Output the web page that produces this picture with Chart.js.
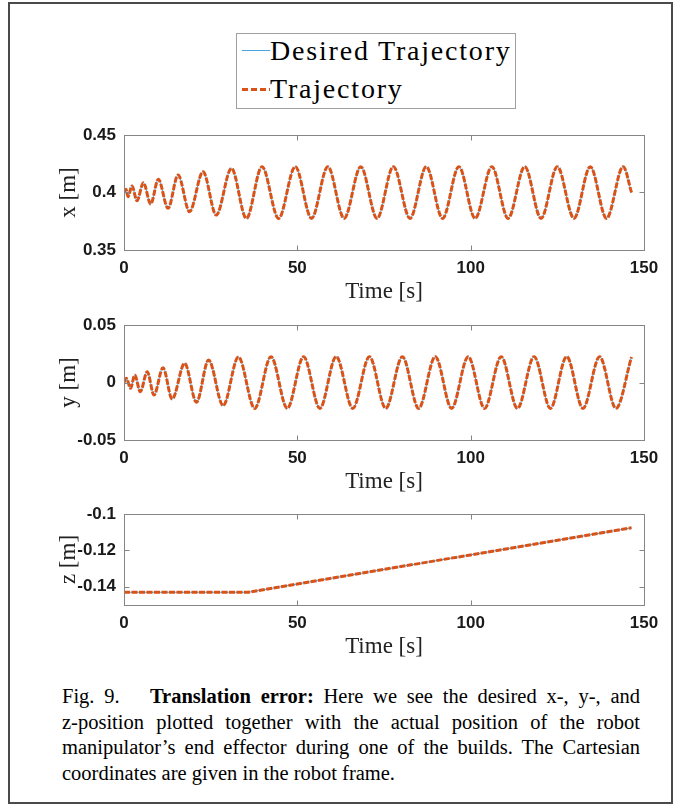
<!DOCTYPE html>
<html>
<head>
<meta charset="utf-8">
<script src="https://cdn.jsdelivr.net/npm/chart.js@4.4.1/dist/chart.umd.min.js"></script>
<style>
  html, body { margin: 0; padding: 0; background: #fff; }
  #page { position: relative; width: 681px; height: 808px; overflow: hidden; background: #fff; }
  #frame { position: absolute; left: 8px; top: 2px; width: 665px; height: 802px; border: 2px solid #4a4a4a; box-sizing: border-box; }
  canvas { position: absolute; left: 0; }
  #legend { position: absolute; left: 236px; top: 33px; width: 280px; height: 76px; border: 1px solid #a0a0a0;
            box-sizing: border-box; font-family: 'Liberation Serif', serif; font-size: 28px; letter-spacing: 1.8px; color: #000; }
  .row { position: absolute; left: 0; right: 0; height: 34px; line-height: 34px; white-space: nowrap; }
  .lab { position: absolute; left: 33px; top: 0; }
  .sample { position: absolute; left: 5px; width: 28px; }
  #caption { position: absolute; left: 62px; top: 684px; width: 578px; font-family: 'Liberation Serif', serif;
             font-size: 20.5px; line-height: 25.5px; color: #000; }
  .cl { text-align: justify; text-align-last: justify; }
  .last { text-align: left; }
</style>
</head>
<body>
<div id="page">
  <div id="frame"></div>
  <div id="legend">
    <div class="row" style="top:0px">
      <div class="sample" style="top:16px;height:1px;background:#4aa3dc"></div>
      <span class="lab">Desired Trajectory</span>
    </div>
    <div class="row" style="top:38px">
      <div class="sample" style="top:16px;height:3px;background:repeating-linear-gradient(to right,#D95319 0 6px,transparent 6px 9px)"></div>
      <span class="lab">Trajectory</span>
    </div>
  </div>
  <canvas id="cx"></canvas>
  <canvas id="cy"></canvas>
  <canvas id="cz"></canvas>
  <div id="caption">
    <div class="cl">Fig. 9.&emsp;&nbsp;<b>Translation error:</b> Here we see the desired x-, y-, and</div>
    <div class="cl">z-position plotted together with the actual position of the robot</div>
    <div class="cl">manipulator’s end effector during one of the builds. The Cartesian</div>
    <div class="last">coordinates are given in the robot frame.</div>
  </div>
</div>
<script>
// time axis ticks shared by all three plots
const timeTicks = [0, 50, 100, 150];

// x position: extrema (s, m)
const xTime = [0, 0.6, 1.15, 2.3, 3.75, 5.6, 7.7, 9.9, 12.7, 15.6, 18.9, 22.8, 26.6, 31.0, 35.3,
  39.8, 44.6, 49.4, 54.1, 58.8, 63.5, 68.3, 73.0, 77.7, 82.5, 87.2, 91.9, 96.6, 101.3, 106.1,
  110.8, 115.6, 120.3, 125.0, 129.8, 134.5, 139.2, 144.0, 146.4];
const xPos = [0.400, 0.4028, 0.3964, 0.4057, 0.3929, 0.4085, 0.3900, 0.4115, 0.3862, 0.4152, 0.3833, 0.4181, 0.3804, 0.4210, 0.3775,
  0.4225, 0.3775, 0.4225, 0.3775, 0.4225, 0.3775, 0.4225, 0.3775, 0.4225, 0.3775, 0.4225, 0.3775, 0.4225, 0.3775, 0.4225,
  0.3775, 0.4225, 0.3775, 0.4225, 0.3775, 0.4225, 0.3775, 0.4225, 0.400];
const xPosTicks = [0.35, 0.4, 0.45];
const xPosLabels = ['0.35', '0.4', '0.45'];

// y position
const yTime = [0, 0.7, 1.9, 3.1, 4.7, 6.7, 8.65, 11.25, 13.9, 17.5, 20.9, 24.4, 28.6, 33.0, 37.7,
  42.4, 47.1, 51.8, 56.5, 61.2, 66.0, 70.8, 75.5, 80.3, 85.0, 89.8, 94.5, 99.3, 104.0, 108.8,
  113.5, 118.3, 123.0, 127.7, 132.4, 137.2, 141.9, 146.4];
const yPos = [0, 0.0036, -0.0051, 0.0065, -0.0080, 0.0094, -0.0109, 0.0129, -0.0143, 0.0167, -0.0172, 0.0196, -0.0201, 0.0222, -0.0225,
  0.0225, -0.0225, 0.0225, -0.0225, 0.0225, -0.0225, 0.0225, -0.0225, 0.0225, -0.0225, 0.0225, -0.0225, 0.0225, -0.0225, 0.0225,
  -0.0225, 0.0225, -0.0225, 0.0225, -0.0225, 0.0225, -0.0225, 0.0222];
const yPosTicks = [-0.05, 0, 0.05];
const yPosLabels = ['-0.05', '0', '0.05'];

// z position
const zTime = [0, 35.8, 146.4];
const zPos = [-0.1430, -0.1430, -0.1076];
const zPosTicks = [-0.14, -0.12, -0.1];
const zPosLabels = ['-0.14', '-0.12', '-0.1'];

const ORANGE = '#D95319';
const BLUE = '#4aa3dc';
const tickFont = { family: 'Liberation Sans', weight: 'bold', size: 17 };
const titleFont = { family: 'Liberation Serif', size: 23 };

// matlab style box with inward ticks on every side
const boxPlugin = {
  id: 'box',
  afterDatasetsDraw(chart) {
    const { ctx, chartArea, scales } = chart;
    const l = Math.round(chartArea.left) + 0.5, r = Math.round(chartArea.right) + 0.5;
    const t = Math.round(chartArea.top) + 0.5, b = Math.round(chartArea.bottom) + 0.5;
    ctx.save();
    ctx.strokeStyle = '#858585';
    ctx.lineWidth = 1;
    ctx.strokeRect(l, t, r - l, b - t);
    ctx.beginPath();
    scales.x.ticks.forEach(tk => {
      const px = Math.round(scales.x.getPixelForValue(tk.value)) + 0.5;
      ctx.moveTo(px, b); ctx.lineTo(px, b - 5);
      ctx.moveTo(px, t); ctx.lineTo(px, t + 5);
    });
    scales.y.ticks.forEach(tk => {
      const py = Math.round(scales.y.getPixelForValue(tk.value)) + 0.5;
      ctx.moveTo(l, py); ctx.lineTo(l + 5, py);
      ctx.moveTo(r, py); ctx.lineTo(r - 5, py);
    });
    ctx.stroke();
    ctx.restore();
  }
};

function makePlot(id, plotTop, plotBottom, time, values, yMin, yMax, yTicks, yLabels, yTitle, curved) {
  const cv = document.getElementById(id);
  const cTop = plotTop - 20;
  const cH = plotBottom + 66 - cTop;
  cv.style.top = cTop + 'px';
  cv.width = 681; cv.height = cH;
  cv.style.width = '681px'; cv.style.height = cH + 'px';
  const pts = time.map((t, i) => ({ x: t, y: values[i] }));
  const mode = curved ? 'monotone' : 'default';
  return new Chart(cv, {
    type: 'line',
    data: {
      datasets: [
        { label: 'Trajectory', data: pts, borderColor: ORANGE, borderWidth: 3, borderDash: [6, 1.5],
          pointRadius: 0, cubicInterpolationMode: mode, tension: 0, order: 0 },
        { label: 'Desired Trajectory', data: pts, borderColor: BLUE, borderWidth: 1,
          pointRadius: 0, cubicInterpolationMode: mode, tension: 0, order: 1 }
      ]
    },
    options: {
      responsive: false,
      animation: false,
      layout: { padding: { left: 0, right: 37, top: 20, bottom: 6 } },
      plugins: { legend: { display: false }, tooltip: { enabled: false } },
      scales: {
        x: {
          type: 'linear', min: 0, max: 150,
          afterBuildTicks: s => { s.ticks = timeTicks.map(v => ({ value: v })); },
          afterFit: s => { s.height = 60; },
          grid: { display: false, drawTicks: false },
          border: { display: false },
          ticks: { padding: 8, maxRotation: 0, font: tickFont, color: '#1a1a1a', callback: v => String(v) },
          title: { display: true, text: 'Time [s]', font: titleFont, color: '#222', padding: { top: 0, bottom: 4 } }
        },
        y: {
          type: 'linear', min: yMin, max: yMax,
          afterBuildTicks: s => { s.ticks = yTicks.map(v => ({ value: v })); },
          afterFit: s => { s.width = 124; },
          grid: { display: false, drawTicks: false },
          border: { display: false },
          ticks: { padding: 8, font: tickFont, color: '#1a1a1a', callback: (v, i) => yLabels[i] },
          title: { display: true, text: yTitle, font: titleFont, color: '#222', padding: { top: 55, bottom: 0 } }
        }
      }
    },
    plugins: [boxPlugin]
  });
}

makePlot('cx', 135, 250, xTime, xPos, 0.35, 0.45, xPosTicks, xPosLabels, 'x [m]', true);
makePlot('cy', 325, 440, yTime, yPos, -0.05, 0.05, yPosTicks, yPosLabels, 'y [m]', true);
makePlot('cz', 514, 605, zTime, zPos, -0.15, -0.1, zPosTicks, zPosLabels, 'z [m]', false);
</script>
</body>
</html>
